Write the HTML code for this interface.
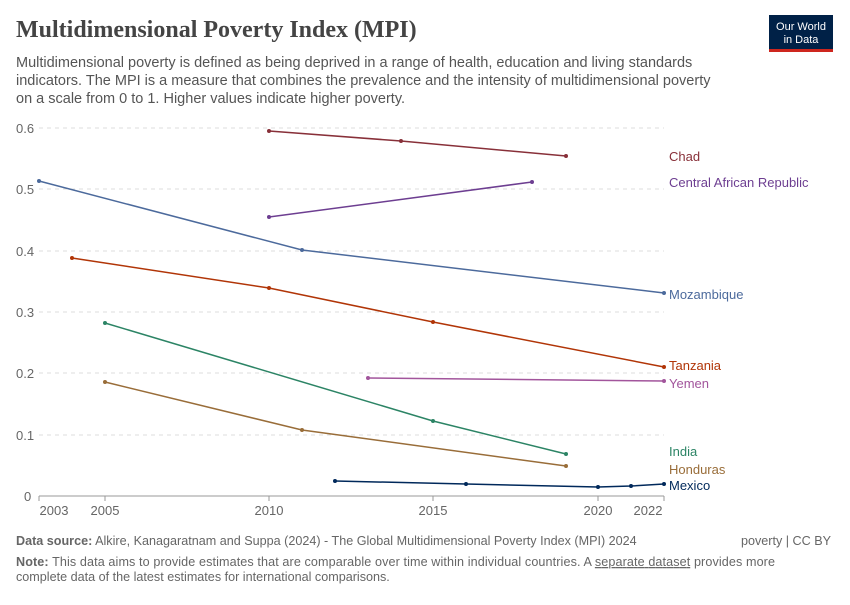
<!DOCTYPE html>
<html><head><meta charset="utf-8"><style>
body{margin:0;background:#fff;font-family:"Liberation Sans",sans-serif;}
</style></head><body>
<svg width="850" height="600" xmlns="http://www.w3.org/2000/svg" font-family="Liberation Sans, sans-serif">
<rect width="850" height="600" fill="#fff"/>
<text x="16" y="37" font-family="Liberation Serif, serif" font-size="24" font-weight="bold" fill="#444">Multidimensional Poverty Index (MPI)</text>
<rect x="769" y="15" width="64" height="37" fill="#002147"/>
<rect x="769" y="49" width="64" height="3" fill="#ce261e"/>
<text x="801" y="30" font-size="11" fill="#fff" text-anchor="middle">Our World</text>
<text x="801" y="43" font-size="11" fill="#fff" text-anchor="middle">in Data</text>
<g font-size="14.5" fill="#555">
<text x="16" y="67">Multidimensional poverty is defined as being deprived in a range of health, education and living standards</text>
<text x="16" y="85">indicators. The MPI is a measure that combines the prevalence and the intensity of multidimensional poverty</text>
<text x="16" y="103">on a scale from 0 to 1. Higher values indicate higher poverty.</text>
</g>
<g stroke="#ddd" stroke-dasharray="4,4">
<line x1="39" x2="664" y1="128" y2="128"/><line x1="39" x2="664" y1="189" y2="189"/>
<line x1="39" x2="664" y1="251" y2="251"/><line x1="39" x2="664" y1="312" y2="312"/>
<line x1="39" x2="664" y1="373" y2="373"/><line x1="39" x2="664" y1="435" y2="435"/>
</g>
<line x1="39" x2="664" y1="496" y2="496" stroke="#999"/>
<g font-size="13" fill="#666">
<text x="16" y="133">0.6</text><text x="16" y="194">0.5</text><text x="16" y="256">0.4</text>
<text x="16" y="317">0.3</text><text x="16" y="378">0.2</text><text x="16" y="440">0.1</text><text x="24" y="501">0</text>
</g>
<g stroke="#999"><line x1="39" x2="39" y1="496" y2="501"/><line x1="105" x2="105" y1="496" y2="501"/><line x1="269" x2="269" y1="496" y2="501"/><line x1="433" x2="433" y1="496" y2="501"/><line x1="598" x2="598" y1="496" y2="501"/><line x1="664" x2="664" y1="496" y2="501"/></g>
<g font-size="13" fill="#666" text-anchor="middle">
<text x="54" y="515">2003</text><text x="105" y="515">2005</text><text x="269" y="515">2010</text>
<text x="433" y="515">2015</text><text x="598" y="515">2020</text><text x="648" y="515">2022</text>
</g>
<g fill="none" stroke-width="1.5">
<polyline stroke="#883039" points="269,131 401,141 566,156"/>
<polyline stroke="#6d3e91" points="269,217 532,182"/>
<polyline stroke="#4c6a9c" points="39,181 302,250 664,293"/>
<polyline stroke="#b13507" points="72,258 269,288 433,322 664,367"/>
<polyline stroke="#a2559c" points="368,378 664,381"/>
<polyline stroke="#2c8465" points="105,323 433,421 566,454"/>
<polyline stroke="#996d39" points="105,382 302,430 566,466"/>
<polyline stroke="#00295b" points="335,481 466,484 598,487 631,486 664,484"/>
</g>
<g>
<circle cx="269" cy="131" r="2" fill="#883039"/><circle cx="401" cy="141" r="2" fill="#883039"/><circle cx="566" cy="156" r="2" fill="#883039"/>
<circle cx="269" cy="217" r="2" fill="#6d3e91"/><circle cx="532" cy="182" r="2" fill="#6d3e91"/>
<circle cx="39" cy="181" r="2" fill="#4c6a9c"/><circle cx="302" cy="250" r="2" fill="#4c6a9c"/><circle cx="664" cy="293" r="2" fill="#4c6a9c"/>
<circle cx="72" cy="258" r="2" fill="#b13507"/><circle cx="269" cy="288" r="2" fill="#b13507"/><circle cx="433" cy="322" r="2" fill="#b13507"/><circle cx="664" cy="367" r="2" fill="#b13507"/>
<circle cx="368" cy="378" r="2" fill="#a2559c"/><circle cx="664" cy="381" r="2" fill="#a2559c"/>
<circle cx="105" cy="323" r="2" fill="#2c8465"/><circle cx="433" cy="421" r="2" fill="#2c8465"/><circle cx="566" cy="454" r="2" fill="#2c8465"/>
<circle cx="105" cy="382" r="2" fill="#996d39"/><circle cx="302" cy="430" r="2" fill="#996d39"/><circle cx="566" cy="466" r="2" fill="#996d39"/>
<circle cx="335" cy="481" r="2" fill="#00295b"/><circle cx="466" cy="484" r="2" fill="#00295b"/><circle cx="598" cy="487" r="2" fill="#00295b"/><circle cx="631" cy="486" r="2" fill="#00295b"/><circle cx="664" cy="484" r="2" fill="#00295b"/>
</g>
<g font-size="13">
<text x="669" y="161" fill="#883039">Chad</text>
<text x="669" y="187" fill="#6d3e91">Central African Republic</text>
<text x="669" y="299" fill="#4c6a9c">Mozambique</text>
<text x="669" y="370" fill="#b13507">Tanzania</text>
<text x="669" y="388" fill="#a2559c">Yemen</text>
<text x="669" y="456" fill="#2c8465">India</text>
<text x="669" y="474" fill="#996d39">Honduras</text>
<text x="669" y="490" fill="#00295b">Mexico</text>
</g>
<g font-size="12.6" fill="#666">
<text x="16" y="545"><tspan font-weight="bold">Data source:</tspan> Alkire, Kanagaratnam and Suppa (2024) - The Global Multidimensional Poverty Index (MPI) 2024</text>
<text x="831" y="545" text-anchor="end">poverty | CC BY</text>
<text x="16" y="566" textLength="759" lengthAdjust="spacing"><tspan font-weight="bold">Note:</tspan> This data aims to provide estimates that are comparable over time within individual countries. A <tspan text-decoration="underline">separate dataset</tspan> provides more</text>
<text x="16" y="581">complete data of the latest estimates for international comparisons.</text>
</g>
</svg>
</body></html>
